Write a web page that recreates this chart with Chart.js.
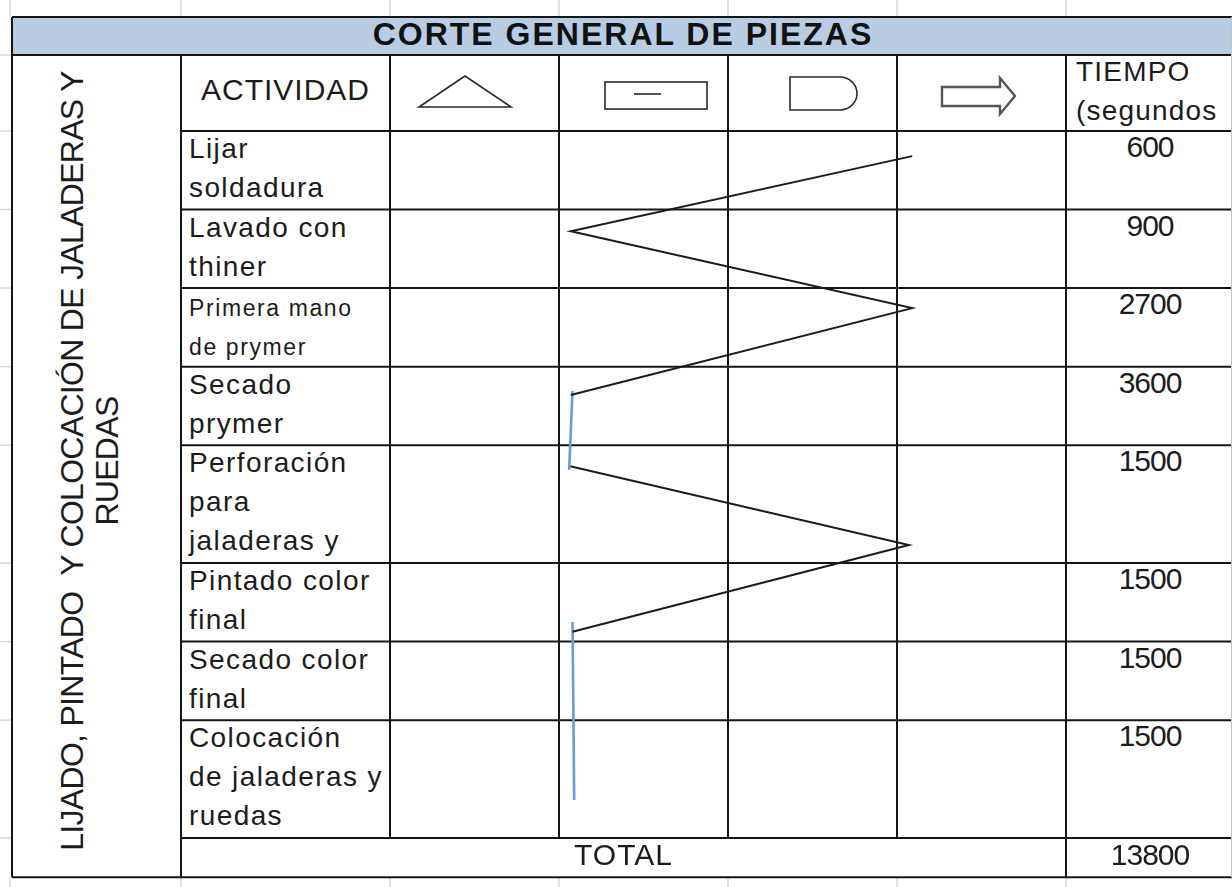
<!DOCTYPE html>
<html>
<head>
<meta charset="utf-8">
<script src="https://cdn.jsdelivr.net/npm/chart.js@4"></script>
<style>
html, body { margin: 0; padding: 0; background: #fff; }
body { width: 1232px; height: 887px; overflow: hidden; position: relative;
       font-family: "Liberation Sans", Arial, sans-serif; color: #1c1c1c; }
#grid { position: absolute; left: 0; top: 0; }
#flow { position: absolute; left: 390px; top: 131px; }
.t { position: absolute; white-space: pre; line-height: 39px; }
</style>
</head>
<body>
<svg id="grid" width="1232" height="887" xmlns="http://www.w3.org/2000/svg"></svg>
<canvas id="flow" width="676" height="707"></canvas>
<div id="texts"></div>
<script>
// --- data read from the sheet ---
const titulo = 'CORTE GENERAL DE PIEZAS';
const etiquetaProceso = ['LIJADO, PINTADO  Y COLOCACIÓN DE JALADERAS Y', 'RUEDAS'];
const encabezadoActividad = 'ACTIVIDAD';
const encabezadoTiempo = ['TIEMPO', '(segundos'];
const actividades = [
    ['Lijar', 'soldadura'],
    ['Lavado con', 'thiner'],
    ['Primera mano', 'de prymer'],
    ['Secado', 'prymer'],
    ['Perforación', 'para', 'jaladeras y'],
    ['Pintado color', 'final'],
    ['Secado color', 'final'],
    ['Colocación', 'de jaladeras y', 'ruedas']
];
const tiempos = [600, 900, 2700, 3600, 1500, 1500, 1500, 1500];
const etiquetaTotal = 'TOTAL';
const simbolos = ['almacenamiento', 'inspeccion', 'demora', 'transporte'];

// flow line: x in symbol columns (0..4), y in text lines from first activity row
const negro1X = [3.09, 1.07, 3.09, 1.07];
const negro1Y = [0.64, 2.55, 4.51, 6.72];
const azul1X = [1.08, 1.06];
const azul1Y = [6.62, 8.63];
const negro2X = [1.06, 3.07, 1.08];
const negro2Y = [8.53, 10.54, 12.75];
const azul2X = [1.08, 1.09];
const azul2Y = [12.5, 17.03];

// --- layout ---
const colX = [12, 181, 390, 559, 728, 897, 1066, 1234];
const topTabla = 17, topEncabezado = 55, topFilas = 131;
const totalLineas = actividades.reduce((s, a) => s + a.length, 0);
const LINEA = 707 / totalLineas;
const filaTop = [topFilas];
actividades.forEach(a => filaTop.push(filaTop[filaTop.length - 1] + a.length * LINEA));
const yTotal = filaTop[filaTop.length - 1];
const yFin = yTotal + LINEA;

const svg = document.getElementById('grid');
const NS = 'http://www.w3.org/2000/svg';
function el(tag, attrs) {
    const e = document.createElementNS(NS, tag);
    for (const k in attrs) e.setAttribute(k, attrs[k]);
    svg.appendChild(e);
    return e;
}
function linea(x1, y1, x2, y2, color, w) {
    el('line', { x1, y1, x2, y2, stroke: color || '#161616', 'stroke-width': w || 2 });
}

// faint spreadsheet gridlines around the table
[10, 181, 390, 559, 728, 897, 1066].forEach(x => {
    linea(x, 0, x, topTabla, '#dadada', 1.5);
    linea(x, yFin, x, 887, '#dadada', 1.5);
});
[topEncabezado, topFilas, ...filaTop.slice(1)].forEach(y => linea(0, y, topTabla - 6, y, '#dadada', 1.5));

// title band
el('rect', { x: colX[0], y: topTabla, width: 1231 - colX[0], height: topEncabezado - topTabla, fill: '#b8cce4' });

// horizontal borders
linea(colX[0], topTabla, colX[7], topTabla);
linea(colX[0], topEncabezado, colX[7], topEncabezado);
filaTop.forEach(y => linea(colX[1], y, colX[7], y));
linea(colX[0], yFin, colX[7], yFin);
// vertical borders
linea(colX[0], topTabla, colX[0], yFin);
linea(colX[1], topEncabezado, colX[1], yFin);
for (let i = 2; i <= 5; i++) linea(colX[i], topEncabezado, colX[i], yTotal);
linea(colX[6], topEncabezado, colX[6], yFin);
linea(1231.5, topTabla, 1231.5, yFin, '#c4c4c4', 1);

// header symbols
const trazo = { fill: 'none', stroke: '#2a2a2a', 'stroke-width': 1.6 };
el('polygon', Object.assign({ points: '465,76 419,107 511,107' }, trazo));
el('rect', Object.assign({ x: 605, y: 82, width: 102, height: 27 }, trazo));
linea(634, 94, 661, 94, '#2a2a2a', 1.6);
el('path', Object.assign({ d: 'M790,77 H840 A17,16.5 0 0 1 840,110 H790 Z' }, trazo));
el('polygon', { points: '942,87 1000,87 1000,78 1015,96 1000,114 1000,106 942,106',
    fill: '#fff', stroke: '#555', 'stroke-width': 2.4 });

// --- texts ---
const capa = document.getElementById('texts');
function texto(str, css) {
    const d = document.createElement('div');
    d.className = 't';
    d.textContent = str;
    Object.assign(d.style, css);
    capa.appendChild(d);
    return d;
}
function centrado(str, x1, x2, top, css) {
    return texto(str, Object.assign({ left: x1 + 'px', width: (x2 - x1) + 'px', top: top + 'px', textAlign: 'center' }, css));
}

centrado(titulo, colX[0], colX[7], 15, { fontWeight: 'bold', fontSize: '32px', letterSpacing: '2px', lineHeight: '38px', color: '#111' });

texto(etiquetaProceso.join('\n'), {
    left: (90 - 411) + 'px', top: (461 - 35) + 'px', width: '822px', textAlign: 'center',
    fontSize: '32px', letterSpacing: '-0.7px', lineHeight: '35px', transform: 'rotate(-90deg)'
});

centrado(encabezadoActividad, colX[1], colX[2], 70, { fontSize: '30px', letterSpacing: '1px' });
texto(encabezadoTiempo.join('\n'), { left: '1076px', top: '52px', fontSize: '28px', letterSpacing: '1.2px' });

actividades.forEach((lineas, i) => {
    const chica = lineas[0] === 'Primera mano';
    texto(lineas.join('\n'), {
        left: '189px', top: (filaTop[i] - (chica ? -1 : 2)) + 'px',
        fontSize: chica ? '23px' : '28px', letterSpacing: chica ? '1.6px' : '1.4px'
    });
    centrado(String(tiempos[i]), colX[6], colX[7], filaTop[i] - 4, { fontSize: '30px', letterSpacing: '-1px' });
});

centrado(etiquetaTotal, colX[1], colX[6], yTotal - 3, { fontSize: '30px', letterSpacing: '1px' });
const total = tiempos.reduce((s, v) => s + v, 0);
centrado(String(total), colX[6], colX[7], yTotal - 3, { fontSize: '30px', letterSpacing: '-1px' });

// --- flow line drawn through Chart.js scales ---
const puntos = (xs, ys) => xs.map((x, i) => ({ x: x, y: ys[i] }));
const NEGRO = '#1b1b1b', AZUL = '#6b9bd8';

new Chart(document.getElementById('flow'), {
    type: 'line',
    data: {
        datasets: [
            { data: puntos(negro1X, negro1Y), borderColor: NEGRO, borderWidth: 2 },
            { data: puntos(azul1X, azul1Y), borderColor: AZUL, borderWidth: 2.6 },
            { data: puntos(negro2X, negro2Y), borderColor: NEGRO, borderWidth: 2 },
            { data: puntos(azul2X, azul2Y), borderColor: AZUL, borderWidth: 2.6 }
        ]
    },
    options: {
        responsive: false,
        animation: false,
        events: [],
        layout: { padding: 0 },
        plugins: { legend: { display: false }, tooltip: { enabled: false } },
        elements: {
            point: { radius: 0 },
            line: { tension: 0, borderJoinStyle: 'miter', fill: false }
        },
        datasets: { line: { clip: false } },
        scales: {
            x: { type: 'linear', min: 0, max: simbolos.length, display: false },
            y: { type: 'linear', min: 0, max: totalLineas, reverse: true, display: false }
        }
    }
});
</script>
</body>
</html>
